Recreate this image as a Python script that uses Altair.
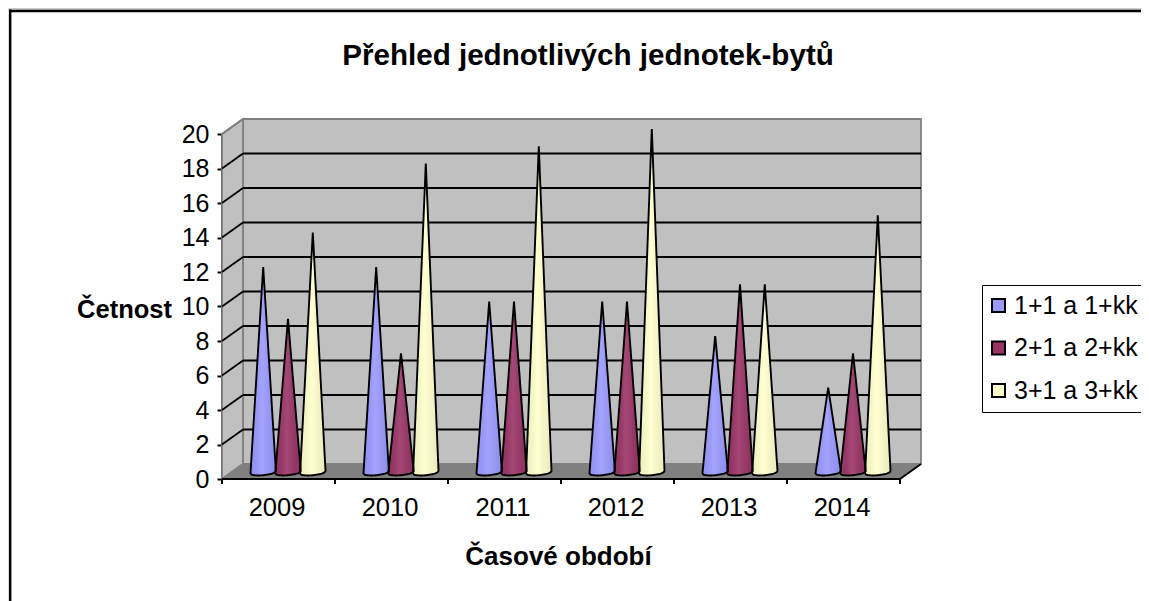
import math
import altair as alt
import pandas as pd

years = ["2009", "2010", "2011", "2012", "2013", "2014"]
series = ["1+1 a 1+kk", "2+1 a 2+kk", "3+1 a 3+kk"]
colors = ["#9999FF", "#993366", "#FFFFCC"]
values_a = [12, 12, 10, 10, 8, 5]
values_b = [9, 7, 10, 10, 11, 7]
values_c = [14, 18, 19, 20, 11, 15]

W, H = 1133, 593
PX_X, PX_Y = 113.0, 17.25        # pixels per category / per value unit
X0, Y0 = 222.0 - 8, 479.0 - 8    # where (0, 0) falls in the view
DX = 21 / PX_X                   # depth of the 3D box, in data units
DY = 15 / PX_Y
YMAX = 20

xs = alt.Scale(domain=[-X0 / PX_X, (W - X0) / PX_X], nice=False, zero=False)
ys = alt.Scale(domain=[(Y0 - H) / PX_Y, Y0 / PX_Y], nice=False, zero=False)
FONT = "Liberation Sans"


def X(f, **k):
    return alt.X(f, type="quantitative", scale=xs, **({"axis": None} | k))


def Y(f, **k):
    return alt.Y(f, type="quantitative", scale=ys, **({"axis": None} | k))


# cones
rows = []
n = len(years)
for si, (name, vals) in enumerate(zip(series, [values_a, values_b, values_c])):
    for ci, v in enumerate(vals):
        cx = ci + 0.584 + (si - 1) * 0.2195
        hw = 0.1125
        base, tilt, b = 0.39, 0.07, 0.17
        tip = v + 0.29
        for i in range(-16, 17):
            t = i / 16
            rim = base + tilt * t
            left_or_right = base - tilt if t < 0 else base + tilt
            rows.append({
                "series": name, "cone": f"{si}-{ci}", "x": cx + t * hw,
                "lo": rim - b * math.sqrt(1 - t * t),
                "hi": left_or_right + (tip - left_or_right) * (1 - abs(t)),
            })
cones = pd.DataFrame(rows)

ticks_y = list(range(0, YMAX + 1, 2))
ticks_x = list(range(0, n + 1))

frame_l = alt.Chart(pd.DataFrame({"a": [0]})).mark_rule(color="black", strokeWidth=2.4).encode(
    x=alt.value(2.2), y=alt.value(1.5), y2=alt.value(H))
frame_t = alt.Chart(pd.DataFrame({"a": [0]})).mark_rule(color="black", strokeWidth=2.4).encode(
    x=alt.value(1), x2=alt.value(W), y=alt.value(3))
frame_g = alt.Chart(pd.DataFrame({"a": [0]})).mark_rule(color="#b0b0b0", strokeWidth=1).encode(
    x=alt.value(1), x2=alt.value(W), y=alt.value(1.2))

# box
back = alt.Chart(pd.DataFrame({"x": [DX], "x2": [n + DX], "y": [DY], "y2": [YMAX + DY]})).mark_rect(
    color="#C0C0C0", stroke="#808080", strokeWidth=1.8).encode(
    x=X("x"), x2="x2", y=Y("y"), y2="y2")
side = alt.Chart(pd.DataFrame({"x": [0, DX], "lo": [0, DY], "hi": [YMAX, YMAX + DY]})).mark_area(
    color="#C0C0C0", stroke="#808080", strokeWidth=1.8).encode(
    x=X("x"), y=Y("lo"), y2="hi")
floor = alt.Chart(pd.DataFrame({"x": [0, DX, n, n + DX], "lo": [0, 0, 0, DY], "hi": [0, DY, DY, DY]})).mark_area(
    color="#808080").encode(x=X("x"), y=Y("lo"), y2="hi")

grid = alt.Chart(pd.DataFrame({"v": [v + DY for v in ticks_y[1:-1]], "x": DX, "x2": n + DX})).mark_rule(
    color="black", strokeWidth=1.8).encode(x=X("x"), x2="x2", y=Y("v"))

diag_rows = []
for v in ticks_y:
    diag_rows += [{"g": v, "x": 0, "y": v}, {"g": v, "x": DX, "y": v + DY}]
diag = alt.Chart(pd.DataFrame(diag_rows[2:-2])).mark_line(color="black", strokeWidth=1.8).encode(
    x=X("x"), y=Y("y"), detail="g:N")
diag_end = alt.Chart(pd.DataFrame([{"g": 0, "x": 0, "y": 0}, {"g": 0, "x": DX, "y": DY},
                                   {"g": 1, "x": 0, "y": YMAX}, {"g": 1, "x": DX, "y": YMAX + DY}])).mark_line(
    color="#808080", strokeWidth=1.8).encode(x=X("x"), y=Y("y"), detail="g:N")
diag_right = alt.Chart(pd.DataFrame({"x": [n, n + DX], "y": [0, DY]})).mark_line(
    color="black", strokeWidth=1.8).encode(x=X("x"), y=Y("y"))

# front axes: real Vega axes pushed onto the box corner
y_axis = alt.Axis(values=ticks_y, domain=False, grid=False, offset=-X0, tickSize=5, tickWidth=2,
                  tickColor="black", labelFontSize=25, labelFont=FONT, labelColor="black", labelPadding=8,
                  title="Četnost", titleFont=FONT, titleFontSize=25.5, titleFontWeight="bold",
                  titleColor="black", titleAngle=0, titleX=-98, titleY=301,
                  titleAlign="center", titleBaseline="middle")
labels_expr = "[" + ",".join(f"'{y}'" for y in years) + "][floor(datum.value)]"
x_axis = alt.Axis(values=[i + 0.5 for i in range(n)], domain=False, grid=False, offset=-(H - Y0), ticks=False,
                  labelExpr=labels_expr, labelFontSize=25.5, labelFont=FONT, labelColor="black",
                  labelPadding=16, labelFlush=False, labelOffset=-2,
                  title="Časové období", titleFont=FONT, titleFontSize=26, titleFontWeight="bold",
                  titleColor="black", titleX=550, titleY=77, titleAlign="center", titleBaseline="middle")

axis_y_line = alt.Chart(pd.DataFrame({"x": [0], "y": [0], "y2": [YMAX]})).mark_rule(
    color="black", strokeWidth=2).encode(
    x=alt.X("x", type="quantitative", scale=xs, axis=x_axis, title="Časové období"),
    y=alt.Y("y", type="quantitative", scale=ys, axis=y_axis, title="Četnost"), y2="y2")
axis_x_line = alt.Chart(pd.DataFrame({"x": [0], "x2": [n], "y": [0]})).mark_rule(
    color="black", strokeWidth=2).encode(x=X("x"), x2="x2", y=Y("y"))
xt = pd.DataFrame({"x": ticks_x, "y": 0, "y2": -5 / PX_Y})
axis_x_ticks = alt.Chart(xt).mark_rule(color="black", strokeWidth=2).encode(x=X("x"), y=Y("y"), y2="y2")

legend = alt.Legend(orient="none", legendX=974, legendY=277, title=None, symbolType="square", symbolSize=169,
                    symbolStrokeColor="black", symbolStrokeWidth=2, symbolOffset=-4, labelFontSize=25,
                    labelFont=FONT, labelColor="black", fillColor="white", strokeColor="black",
                    padding=8, rowPadding=16.5, labelOffset=3, labelLimit=200)

cone_fill = alt.Chart(cones).mark_area(opacity=1).encode(
    x=X("x"), y=Y("lo"), y2="hi", detail="cone:N",
    color=alt.Color("series:N", scale=alt.Scale(domain=series, range=colors), legend=legend),
)
shade = alt.Gradient(gradient="linear", x1=0, x2=1, y1=0, y2=0, stops=[
    alt.GradientStop(color="rgba(0,0,0,0.06)", offset=0),
    alt.GradientStop(color="rgba(255,255,255,0.10)", offset=0.45),
    alt.GradientStop(color="rgba(0,0,0,0.08)", offset=1),
])
cone_shade = alt.Chart(cones).mark_area(color=shade).encode(x=X("x"), y=Y("lo"), y2="hi", detail="cone:N")
cone_line = alt.Chart(cones).mark_area(fillOpacity=0, fill="white", stroke="black", strokeWidth=1.9).encode(
    x=X("x"), y=Y("lo"), y2="hi", detail="cone:N")

chart = alt.layer(
    axis_y_line, frame_g, frame_l, frame_t, back, side, floor, grid, diag, diag_end, diag_right,
    axis_x_line, axis_x_ticks, cone_fill, cone_shade, cone_line,
).resolve_axis(x="independent", y="independent").properties(
    width=W, height=H, padding=0, autosize=alt.AutoSizeParams(type="none"),
    title=alt.TitleParams("Přehled jednotlivých jednotek-bytů", font=FONT, fontSize=29.6, fontWeight="bold",
                          color="black", offset=-64, anchor="middle", frame="group", dx=13.5),
).configure_view(stroke=None).configure_legend(strokeWidth=2).configure(background="white")

chart.save("out.html", embed_options={"renderer": "svg", "actions": False})
